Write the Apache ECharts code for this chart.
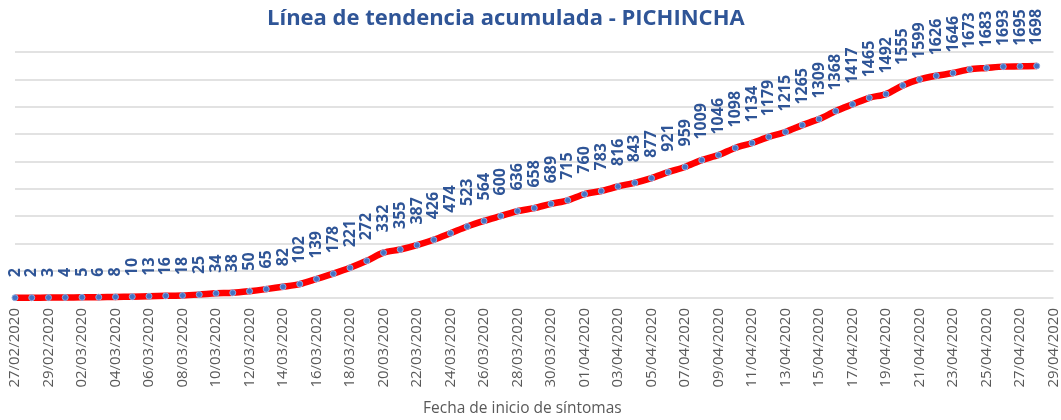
<!DOCTYPE html>
<html>
<head>
<meta charset="utf-8">
<script src="https://cdn.jsdelivr.net/npm/echarts@6/dist/echarts.min.js"></script>
<style>
html,body{margin:0;padding:0;background:#fff;}
#chart{width:1061px;height:420px;}
</style>
</head>
<body>
<div id="chart"></div>
<script>
var titleText = 'Línea de tendencia acumulada - PICHINCHA';
var xAxisTitle = 'Fecha de inicio de síntomas';
var dates = [
  '27/02/2020','28/02/2020','29/02/2020','01/03/2020','02/03/2020','03/03/2020','04/03/2020','05/03/2020',
  '06/03/2020','07/03/2020','08/03/2020','09/03/2020','10/03/2020','11/03/2020','12/03/2020','13/03/2020',
  '14/03/2020','15/03/2020','16/03/2020','17/03/2020','18/03/2020','19/03/2020','20/03/2020','21/03/2020',
  '22/03/2020','23/03/2020','24/03/2020','25/03/2020','26/03/2020','27/03/2020','28/03/2020','29/03/2020',
  '30/03/2020','31/03/2020','01/04/2020','02/04/2020','03/04/2020','04/04/2020','05/04/2020','06/04/2020',
  '07/04/2020','08/04/2020','09/04/2020','10/04/2020','11/04/2020','12/04/2020','13/04/2020','14/04/2020',
  '15/04/2020','16/04/2020','17/04/2020','18/04/2020','19/04/2020','20/04/2020','21/04/2020','22/04/2020',
  '23/04/2020','24/04/2020','25/04/2020','26/04/2020','27/04/2020','28/04/2020','29/04/2020'
];
var acumulados = [
  2,2,3,4,5,6,8,10,13,16,
  18,25,34,38,50,65,82,102,139,178,
  221,272,332,355,387,426,474,523,564,600,
  636,658,689,715,760,783,816,843,877,921,
  959,1009,1046,1098,1134,1179,1215,1265,1309,1368,
  1417,1465,1492,1555,1599,1626,1646,1673,1683,1693,
  1695,1698,null
];
var yMin = 0, yMax = 1800, yStep = 200;

var chart = echarts.init(document.getElementById('chart'));
chart.setOption({
  animation: false,
  backgroundColor: '#ffffff',
  title: [
    {
      text: titleText,
      left: 262, top: 3,
      textStyle: {fontFamily: 'Open Sans', fontWeight: 'bold', fontSize: 22, color: '#2F5597'}
    },
    {
      text: xAxisTitle,
      left: 418, top: 396,
      textStyle: {fontFamily: 'Open Sans', fontWeight: 'normal', fontSize: 15.5, color: '#595959'}
    }
  ],
  grid: {left: 15, right: 2.5, top: 52, bottom: 122, containLabel: false},
  xAxis: {
    type: 'category',
    data: dates,
    boundaryGap: false,
    axisLine: {show: false},
    axisTick: {show: false},
    splitLine: {show: false},
    axisLabel: {
      interval: 1,
      rotate: 90,
      margin: 10,
      fontFamily: 'Open Sans',
      fontSize: 15,
      color: '#595959'
    }
  },
  yAxis: {
    type: 'value',
    min: yMin, max: yMax, interval: yStep,
    axisLine: {show: false},
    axisTick: {show: false},
    axisLabel: {show: false},
    splitLine: {show: true, lineStyle: {color: '#D9D9D9', width: 1.5}}
  },
  series: [{
    type: 'line',
    data: acumulados,
    smooth: 0.3,
    showAllSymbol: true,
    symbol: 'circle',
    symbolSize: 6,
    lineStyle: {color: '#FF0000', width: 6.5},
    itemStyle: {color: '#4472C4', borderColor: '#8FAADC', borderWidth: 1},
    label: {
      show: true,
      position: 'top',
      distance: 17,
      rotate: 90,
      align: 'left',
      verticalAlign: 'middle',
      fontFamily: 'Open Sans',
      fontWeight: 'bold',
      fontSize: 16,
      color: '#2F5597'
    }
  }]
});
</script>
</body>
</html>
